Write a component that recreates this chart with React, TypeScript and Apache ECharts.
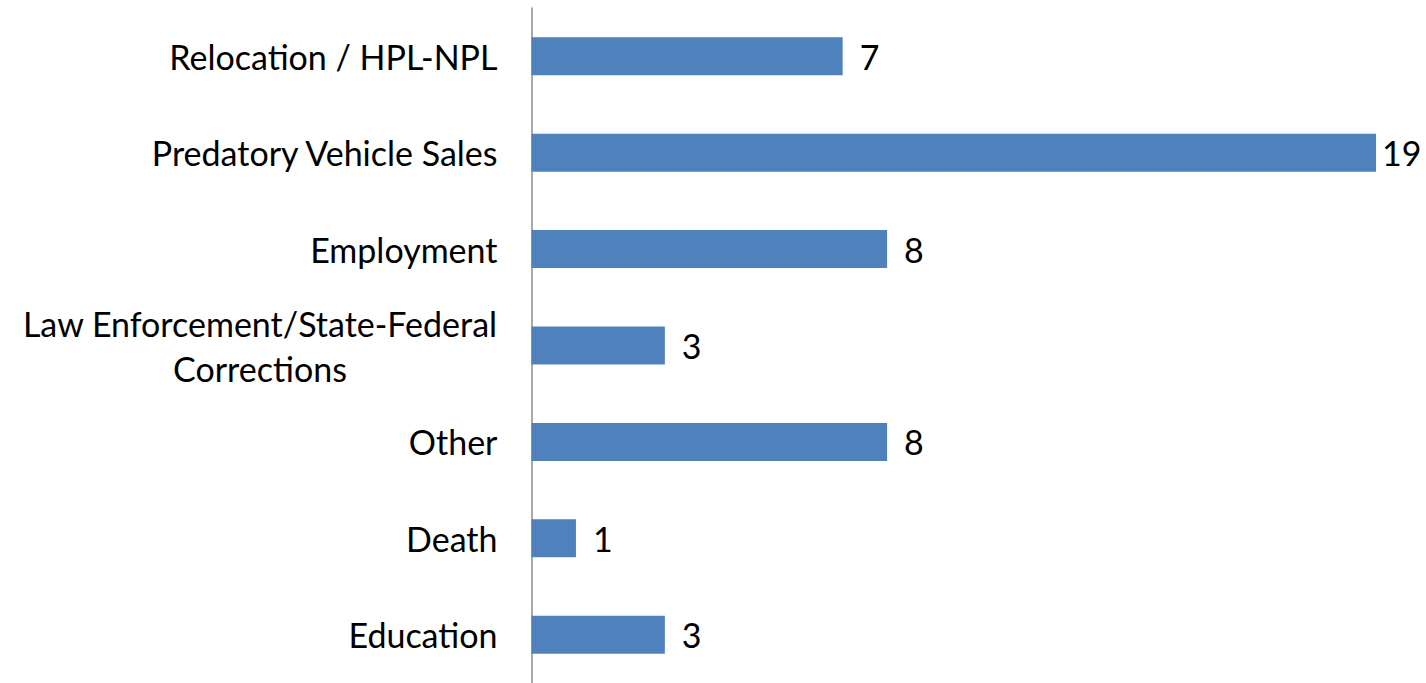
import React, { useEffect, useRef } from "react";
import * as echarts from "echarts";

const categories = [
  "Relocation / HPL-NPL",
  "Predatory Vehicle Sales",
  "Employment",
  "Law Enforcement/State-Federal\nCorrections",
  "Other",
  "Death",
  "Education",
];
const values = [7, 19, 8, 3, 8, 1, 3];

const FONT = "Lato";
const FS = 34;

export default function App() {
  const ref = useRef<HTMLDivElement>(null);
  useEffect(() => {
    if (!ref.current) return;
    const chart = echarts.init(ref.current, undefined, { renderer: "svg" });
    const cv = document.createElement("canvas");
    const ctx = cv.getContext("2d")!;
    ctx.font = `${FS}px ${FONT}`;
    const maxLineW = (s: string) =>
      Math.max(...s.split("\n").map((l) => ctx.measureText(l).width));
    const maxV = Math.max(...values);

    chart.setOption({
      animation: false,
      grid: { left: 531.5, top: 8, width: 889, height: 678 },
      xAxis: {
        type: "value",
        min: 0,
        max: 20,
        show: false,
        splitLine: { show: false },
      },
      yAxis: {
        type: "category",
        inverse: true,
        data: categories,
        axisLine: { show: true, lineStyle: { color: "#8c8c8c", width: 1.5 } },
        axisTick: { show: false },
        axisLabel: {
          margin: 34,
          fontFamily: FONT,
          fontSize: FS,
          color: "#000",
          align: "right",
          formatter: (v: string) => {
            if (v.includes("\n")) {
              return v
                .split("\n")
                .map((l) => `{c|${l}}`)
                .join("\n");
            }
            return v;
          },
          rich: {
            c: {
              width: Math.ceil(maxLineW(categories[3])),
              align: "center",
              fontFamily: FONT,
              fontSize: FS,
              lineHeight: 45,
              color: "#000",
            },
          },
        },
      },
      series: [
        {
          type: "bar",
          data: values.map((v) =>
            v === maxV ? { value: v, label: { distance: 6 } } : v
          ),
          barWidth: 38,
          itemStyle: { color: "#4f81bd" },
          label: {
            show: true,
            position: "right",
            distance: 17,
            fontFamily: FONT,
            fontSize: FS,
            color: "#000",
          },
        },
      ],
    });
    return () => chart.dispose();
  }, []);
  return (
    <div
      ref={ref}
      style={{ position: "absolute", left: 0, top: 0, width: 1426, height: 683 }}
    />
  );
}
